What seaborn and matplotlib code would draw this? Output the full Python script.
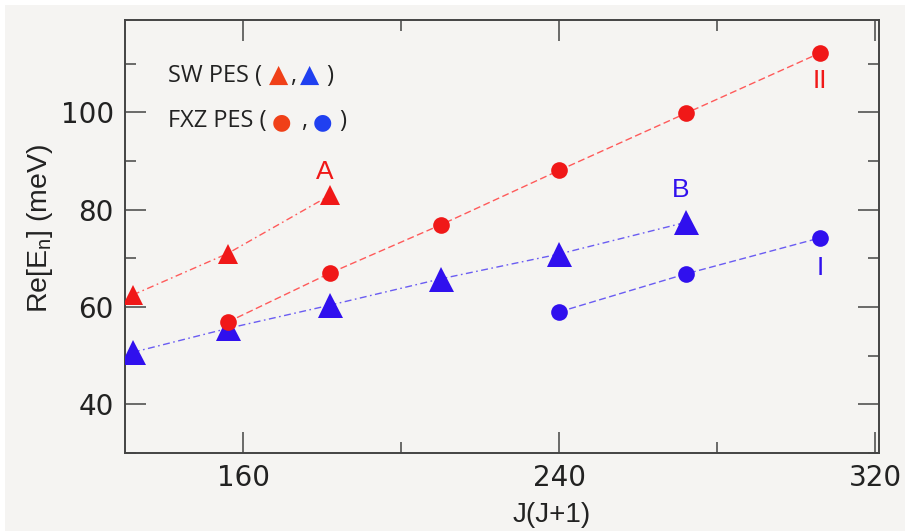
import matplotlib
matplotlib.use("Agg")
import matplotlib.pyplot as plt
import seaborn as sns
import numpy as np
from matplotlib.ticker import MultipleLocator

# ---- data ----
jj_A = [132, 156, 182]
e_A = [62.5, 71.0, 83.0]          # SW PES red triangles (A)
jj_II = [156, 182, 210, 240, 272, 306]
e_II = [56.9, 67.0, 76.9, 88.1, 99.8, 112.2]  # FXZ PES red circles (II)
jj_B = [132, 156, 182, 210, 240, 272]
e_B = [50.7, 55.6, 60.4, 65.8, 70.9, 77.4]    # SW PES blue triangles (B)
jj_I = [240, 272, 306]
e_I = [59.0, 66.8, 74.2]          # FXZ PES blue circles (I)

xticks = [160, 240, 320]
yticks = [40, 60, 80, 100]

RED = "#f01818"
BLUE = "#3010ee"
RED_L = "#ff5a5a"
BLUE_L = "#6a5cf2"
BG = "#f5f4f2"

sns.set_theme(style="ticks")
plt.rcParams["font.family"] = ["Liberation Sans", "DejaVu Sans"]

fig = plt.figure(figsize=(9.05, 5.31), dpi=100)
fig.patch.set_facecolor("white")
fig.patches.append(plt.Rectangle((5 / 905, 0), 1, 1 - 5 / 531, transform=fig.transFigure,
                                 facecolor=BG, edgecolor="none", zorder=-10))
ax = fig.add_axes([125 / 905, 1 - 453 / 531, (879 - 125) / 905, (453 - 20) / 531])
ax.set_facecolor(BG)

dashdot = (0, (5, 2.5, 1.2, 2.5))
dashed = (0, (5, 2.5))

sns.lineplot(x=jj_A, y=e_A, ax=ax, color=RED_L, linestyle=dashdot, lw=1.0,
             marker="^", markersize=14, markerfacecolor=RED, markeredgecolor=RED,
             markeredgewidth=0, zorder=3)
sns.lineplot(x=jj_B, y=e_B, ax=ax, color=BLUE_L, linestyle=dashdot, lw=1.0,
             marker="^", markersize=18, markerfacecolor=BLUE, markeredgecolor=BLUE,
             markeredgewidth=0, zorder=3)
sns.lineplot(x=jj_II, y=e_II, ax=ax, color=RED_L, linestyle=dashed, lw=1.0,
             marker="o", markersize=12, markerfacecolor=RED, markeredgecolor=RED,
             markeredgewidth=0, zorder=4)
sns.lineplot(x=jj_I, y=e_I, ax=ax, color=BLUE_L, linestyle=dashed, lw=1.0,
             marker="o", markersize=12, markerfacecolor=BLUE, markeredgecolor=BLUE,
             markeredgewidth=0, zorder=4)

ax.set_xlim(130, 321)
ax.set_ylim(30, 119)
ax.set_xticks(xticks)
ax.set_yticks(yticks)
ax.xaxis.set_minor_locator(MultipleLocator(40))
ax.yaxis.set_minor_locator(MultipleLocator(10))
ax.tick_params(which="major", direction="in", length=15, width=1.1, color="#444444",
               top=True, right=True, labelsize=21, labelcolor="#222222", pad=8)
ax.tick_params(which="minor", direction="in", length=8, width=1.1, color="#444444",
               top=True, right=True)
for lab in ax.get_xticklabels() + ax.get_yticklabels():
    lab.set_family(["DejaVu Sans"])
    lab.set_fontsize(20)
for s in ax.spines.values():
    s.set_color("#444444")
    s.set_linewidth(1.4)

ax.set_xlabel("J(J+1)", fontsize=20, color="#222222", va="center")
ax.xaxis.set_label_coords((552 - 125) / 754, (453 - 515) / 433)
ax.set_ylabel(r"Re[E$_\mathregular{n}$] (meV)", fontsize=20.5, color="#222222", va="center")
ax.yaxis.set_label_coords((40 - 125) / 754, (453 - 228) / 433)

# series labels
ax.text(180.7, 87.8, "A", color=RED, fontsize=19, ha="center", va="center")
ax.text(270.7, 84.0, "B", color=BLUE, fontsize=19, ha="center", va="center")
ax.text(306, 106.5, "II", color=RED, fontsize=19, ha="center", va="center")
ax.text(306, 68.0, "I", color=BLUE, fontsize=19, ha="center", va="center")

# legend built from text pieces (text, colour, size, gap in points before it)
fam = ["Open Sans", "DejaVu Sans"]
def chain(parts, x0, y0):
    t = ax.text(x0, y0, parts[0][0], color=parts[0][1], fontsize=parts[0][2],
                family=fam, transform=ax.transAxes, ha="left", va="baseline")
    for txt, col, fs, dx in parts[1:]:
        t = ax.annotate(txt, xy=(1, 0), xycoords=t, xytext=(dx, 0),
                        textcoords="offset points", color=col, fontsize=fs,
                        family=fam, ha="left", va="bottom")
    return t

chain([("SW PES (", "#222222", 17), ("▲", "#f04018", 18, 5), (",", "#222222", 17, 1),
       ("▲", "#2040f0", 18, 3), (")", "#222222", 17, 5)],
      (168 - 125) / 754, (453 - 82) / 433)
chain([("FXZ PES (", "#222222", 17), ("●", "#f04018", 16, 4), (",", "#222222", 17, 7),
       ("●", "#2040f0", 16, 4), (")", "#222222", 17, 5)],
      (168 - 125) / 754, (453 - 127) / 433)

fig.savefig("out.png", dpi=100, facecolor=fig.get_facecolor())
